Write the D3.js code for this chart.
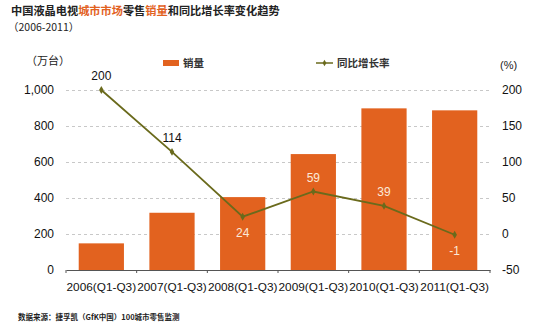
<!DOCTYPE html>
<html><head><meta charset="utf-8">
<script src="https://cdn.jsdelivr.net/npm/d3@7"></script>
<style>body{margin:0;background:#fff}svg{display:block}</style>
</head><body><svg id="c" width="550" height="329"></svg>
<script>
const categories = ["2006(Q1-Q3)","2007(Q1-Q3)","2008(Q1-Q3)","2009(Q1-Q3)","2010(Q1-Q3)","2011(Q1-Q3)"];
const sales = [148, 318, 405, 644, 898, 887];
const growth = [200, 114, 24, 59, 39, -1];
const leftTicks = [0, 200, 400, 600, 800, 1000];
const rightTicks = [-50, 0, 50, 100, 150, 200];
const labelBelow = [false, false, true, false, false, true];

const svg = d3.select("#c");
const font = "'Liberation Sans', Arial, 'Noto Sans CJK SC', sans-serif";
const cjk = "'Noto Sans CJK SC', sans-serif";
const orange = "#E2621F";
const olive = "#6A6A1C";

const x = d3.scaleBand().domain(categories).range([66, 490]).paddingInner(0.36).paddingOuter(0.18);
const band = d3.scaleBand().domain(categories).range([66, 490]);
const yL = d3.scaleLinear().domain([0, 1000]).range([270, 90]);
const yR = d3.scaleLinear().domain([-50, 200]).range([270, 90]);

// title
const t = svg.append("text").attr("x", 11).attr("y", 15).attr("font-family", cjk).attr("font-size", 11.2).attr("font-weight", "bold").attr("fill", "#222");
t.append("tspan").text("中国液晶电视");
t.append("tspan").attr("fill", orange).text("城市市场");
t.append("tspan").text("零售");
t.append("tspan").attr("fill", orange).text("销量");
t.append("tspan").text("和同比增长率变化趋势");
svg.append("text").attr("x", 8).attr("y", 31).attr("font-family", cjk).attr("font-size", 10.5).attr("fill", "#222").text("（2006-2011）");

// gridlines
svg.append("g").selectAll("line").data(leftTicks.filter(d => d > 0)).join("line")
  .attr("x1", 66).attr("x2", 490).attr("y1", d => yL(d) + 0.5).attr("y2", d => yL(d) + 0.5)
  .attr("stroke", "#c8c8c8").attr("stroke-dasharray", "3,3");

// bars
svg.append("g").selectAll("rect").data(sales).join("rect")
  .attr("x", (d, i) => x(categories[i])).attr("width", x.bandwidth())
  .attr("y", d => yL(d)).attr("height", d => yL(0) - yL(d)).attr("fill", orange);

// x axis
const xAxis = d3.axisBottom(band).tickSize(0).tickFormat("");
const gx = svg.append("g").attr("transform", "translate(0,270)").call(xAxis);
gx.select(".domain").attr("stroke", "#555").attr("stroke-width", 1.2);
svg.append("g").selectAll("line").data(d3.range(categories.length + 1)).join("line")
  .attr("x1", i => 66 + i * band.step()).attr("x2", i => 66 + i * band.step())
  .attr("y1", 270).attr("y2", 273).attr("stroke", "#555");
svg.append("g").selectAll("text").data(categories).join("text")
  .attr("x", d => band(d) + band.bandwidth() / 2).attr("y", 291).attr("text-anchor", "middle")
  .attr("font-family", font).attr("font-size", 11.8).attr("fill", "#111").text(d => d);

// left axis labels
const gl = svg.append("g").attr("transform", "translate(56,0)")
  .call(d3.axisLeft(yL).tickValues(leftTicks).tickSize(0).tickFormat(d3.format(",")));
gl.select(".domain").remove();
gl.selectAll("text").attr("font-family", font).attr("font-size", 12).attr("fill", "#111").attr("x", -2);
svg.append("text").attr("x", 26).attr("y", 65).attr("font-family", cjk).attr("font-size", 11).attr("fill", "#222").text("（万台）");

// right axis labels
const gr = svg.append("g").attr("transform", "translate(500,0)")
  .call(d3.axisRight(yR).tickValues(rightTicks).tickSize(0).tickFormat(d => String(d)));
gr.select(".domain").remove();
gr.selectAll("text").attr("font-family", font).attr("font-size", 12).attr("fill", "#111").attr("x", 2);
svg.append("text").attr("x", 500).attr("y", 69).attr("font-family", font).attr("font-size", 11).attr("fill", "#222").text("(%)");

// line
const cx = i => band(categories[i]) + band.bandwidth() / 2;
svg.append("path").datum(growth)
  .attr("d", d3.line().x((d, i) => cx(i)).y(d => yR(d)))
  .attr("fill", "none").attr("stroke", olive).attr("stroke-width", 1.8);
svg.append("g").selectAll("path").data(growth).join("path")
  .attr("d", d3.symbol(d3.symbolDiamond, 18))
  .attr("transform", (d, i) => `translate(${cx(i)},${yR(d)})`).attr("fill", olive);
svg.append("g").selectAll("text").data(growth).join("text")
  .attr("x", (d, i) => cx(i)).attr("y", (d, i) => labelBelow[i] ? yR(d) + 20 : yR(d) - 10)
  .attr("text-anchor", "middle").attr("font-family", font).attr("font-size", 12)
  .attr("fill", (d, i) => i < 2 ? "#111" : "#FBE9D8").text(d => d);

// legend
svg.append("rect").attr("x", 163).attr("y", 60).attr("width", 16).attr("height", 6).attr("fill", orange);
svg.append("text").attr("x", 183).attr("y", 67).attr("font-family", cjk).attr("font-size", 10.5).attr("font-weight", "bold").attr("fill", "#333").text("销量");
svg.append("line").attr("x1", 316).attr("x2", 333).attr("y1", 63).attr("y2", 63).attr("stroke", olive).attr("stroke-width", 1.5);
svg.append("path").attr("d", d3.symbol(d3.symbolDiamond, 12)).attr("transform", "translate(324.5,63)").attr("fill", olive);
svg.append("text").attr("x", 337).attr("y", 67).attr("font-family", cjk).attr("font-size", 10.5).attr("font-weight", "bold").attr("fill", "#333").text("同比增长率");

// source
svg.append("text").attr("x", 18).attr("y", 320).attr("font-family", cjk).attr("font-size", 7.5).attr("font-weight", "bold").attr("fill", "#222").text("数据来源：捷孚凯（GfK中国）100城市零售监测");
</script></body></html>
